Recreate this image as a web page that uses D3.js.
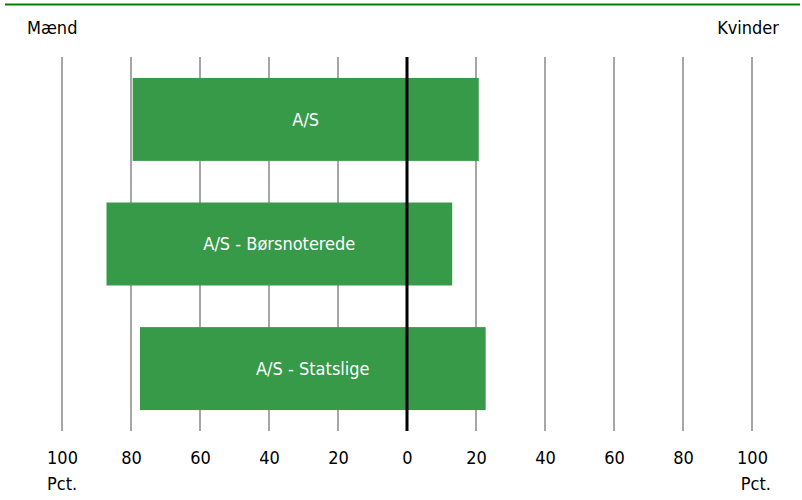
<!DOCTYPE html>
<html>
<head>
<meta charset="utf-8">
<script src="https://cdn.jsdelivr.net/npm/d3@7"></script>
<style>
  html, body { margin: 0; padding: 0; background: #fff; }
  svg { display: block; }
  text { font-family: "DejaVu Sans Condensed", "Open Sans", sans-serif; }
</style>
</head>
<body>
<svg id="chart" width="802" height="500"></svg>
<script>
// Data
const categories = ["A/S", "A/S - Børsnoterede", "A/S - Statslige"];
const maend = [79.5, 87.1, 77.4];
const kvinder = [20.8, 13.1, 22.8];
const tickValues = [-100, -80, -60, -40, -20, 0, 20, 40, 60, 80, 100];
const leftLabel = "Mænd";
const rightLabel = "Kvinder";
const unitLabel = "Pct.";

const FONT = "\"DejaVu Sans Condensed\", \"Open Sans\", sans-serif";
const FS = 18;
const svg = d3.select("#chart");

const x = d3.scaleLinear().domain([-100, 100]).range([62, 752]);
const y = d3.scaleBand().domain(categories).range([57, 431]).paddingInner(0.334).paddingOuter(0.168);

// top rule
svg.append("line").attr("x1", 5).attr("x2", 800).attr("y1", 4.5).attr("y2", 4.5)
  .attr("stroke", "#008000").attr("stroke-width", 2);

// header labels
svg.append("text").attr("x", 27).attr("y", 34).attr("font-size", FS).attr("fill", "#000").text(leftLabel);
svg.append("text").attr("x", 779).attr("y", 34).attr("font-size", FS).attr("fill", "#000")
  .attr("text-anchor", "end").text(rightLabel);

// gridlines
svg.append("g").selectAll("line").data(tickValues.filter(d => d !== 0)).join("line")
  .attr("x1", d => x(d)).attr("x2", d => x(d))
  .attr("y1", 57).attr("y2", 431)
  .attr("stroke", "#a6a6a6").attr("stroke-width", 2);

// bars
const data = categories.map((c, i) => ({ c, m: maend[i], k: kvinder[i] }));
svg.append("g").selectAll("rect").data(data).join("rect")
  .attr("x", d => x(-d.m))
  .attr("y", d => y(d.c))
  .attr("width", d => x(d.k) - x(-d.m))
  .attr("height", y.bandwidth())
  .attr("fill", "#379a48");

// zero line
svg.append("line").attr("x1", x(0)).attr("x2", x(0)).attr("y1", 57).attr("y2", 431)
  .attr("stroke", "#000").attr("stroke-width", 3);

// bar labels
svg.append("g").selectAll("text").data(data).join("text")
  .attr("x", d => (x(-d.m) + x(d.k)) / 2)
  .attr("y", d => y(d.c) + y.bandwidth() / 2)
  .attr("dy", "0.35em")
  .attr("text-anchor", "middle")
  .attr("font-size", FS)
  .attr("fill", "#fff")
  .text(d => d.c);

// axis tick labels
const axis = d3.axisBottom(x).tickValues(tickValues).tickSize(0).tickPadding(0)
  .tickFormat(d => Math.abs(d));
const ag = svg.append("g").attr("transform", "translate(0,451)").call(axis);
ag.select(".domain").remove();
ag.selectAll("text").attr("font-size", FS).attr("fill", "#000").style("font-family", FONT);

// unit labels
svg.append("text").attr("x", 47).attr("y", 490).attr("font-size", FS).attr("fill", "#000").text(unitLabel);
svg.append("text").attr("x", 771).attr("y", 490).attr("font-size", FS).attr("fill", "#000")
  .attr("text-anchor", "end").text(unitLabel);
</script>
</body>
</html>
